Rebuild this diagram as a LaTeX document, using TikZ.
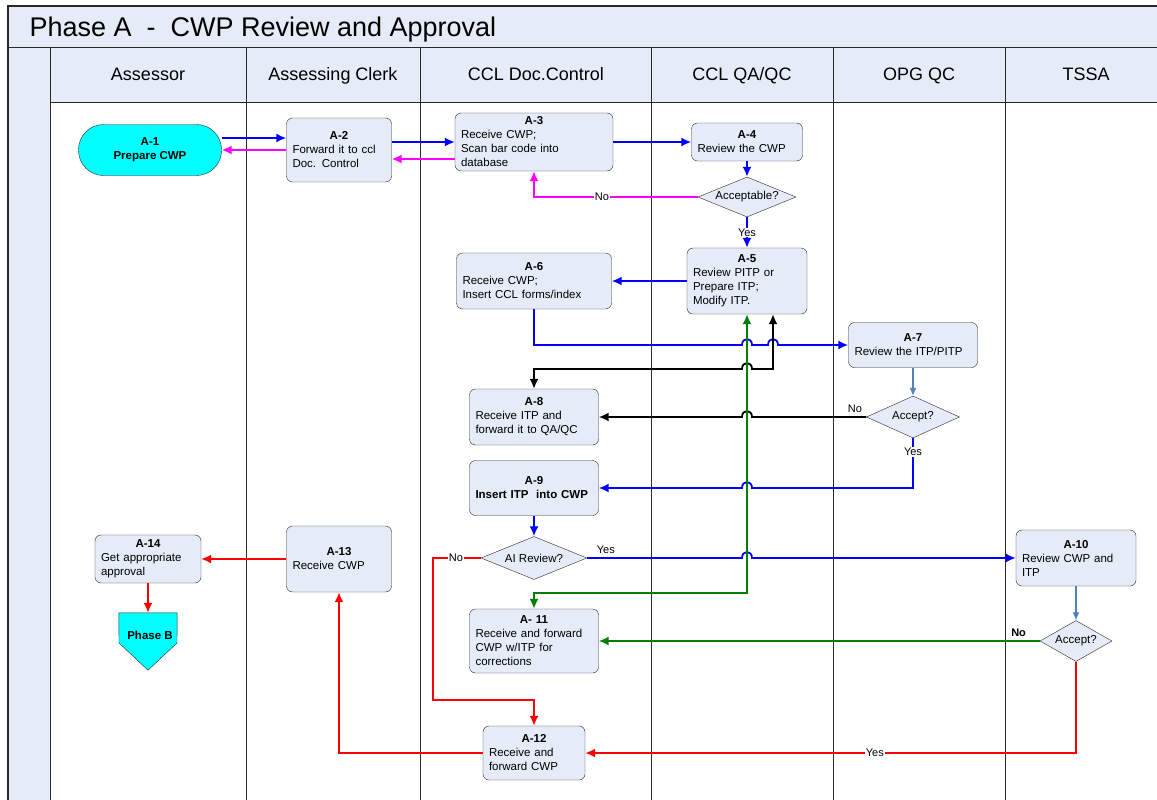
\documentclass[tikz,border=0pt]{standalone}
\usepackage{fontspec}
\setmainfont{Liberation Sans}
\usetikzlibrary{shapes.geometric,arrows.meta}
\definecolor{lanefill}{RGB}{230,236,247}
\definecolor{rulegray}{RGB}{40,40,40}
\definecolor{okgreen}{RGB}{0,128,0}
\definecolor{steel}{RGB}{79,129,189}
\definecolor{aqua}{RGB}{0,255,255}
\definecolor{pinkline}{RGB}{255,0,255}
\definecolor{redline}{RGB}{255,0,0}
\definecolor{blueline}{RGB}{0,0,255}
\newcommand{\taskid}[1]{{\centering\bfseries #1\par}}

\begin{document}
\begin{tikzpicture}[x=1pt,y=-1pt,>={Latex[length=10pt,width=9pt]},
	task/.style={draw=rulegray,fill=lanefill,rounded corners=6pt,inner xsep=6pt,inner ysep=3pt,align=left,font=\fontsize{11.5}{14}\selectfont},
	terminal/.style={draw=rulegray,fill=aqua,rounded corners=25pt,minimum width=143pt,minimum height=51pt,align=center,font=\fontsize{11.5}{14}\selectfont\bfseries},
	decision/.style={diamond,draw=rulegray,fill=lanefill,inner sep=0pt,font=\fontsize{11.5}{14}\selectfont},
	lbl/.style={fill=white,inner sep=1pt,font=\fontsize{11}{13}\selectfont},
	conn/.style={line width=1.8pt,->},
	bl/.style={conn,draw=blueline},
	mg/.style={conn,draw=pinkline},
	gn/.style={conn,draw=okgreen},
	rd/.style={conn,draw=redline},
	bk/.style={conn,draw=black},
	sb/.style={draw=steel,line width=1.2pt,-{Latex[length=8pt,width=7pt]}}]
	\useasboundingbox (0,0) rectangle (1157,800);
	% pool frame, title band and lane headers
	\fill[lanefill] (8,6) rectangle (1157,102);
	\fill[lanefill] (8,102) rectangle (50,800);
	\draw[rulegray,line width=1.2pt] (1157,6) -- (8,6) -- (8,800);
	\draw[rulegray,line width=1pt] (8,48) -- (1157,48);
	\draw[rulegray,line width=1pt] (50,102) -- (1157,102);
	\foreach \x in {50,246,420,651,833,1005}
		\draw[rulegray,line width=1pt] (\x,48) -- (\x,800);
	\node[anchor=base west,font=\fontsize{27}{31}\selectfont] (title) at (26,37) {Phase A\ \ -\ \ CWP Review and Approval};
	\foreach \x/\lane/\name in {148/assessor/Assessor,333/clerk/Assessing Clerk,536/doc/CCL Doc.Control,742/qa/{CCL QA/QC},919/opg/OPG QC,1086/tssa/TSSA}
		\node[anchor=base,font=\fontsize{18}{21}\selectfont] (h\lane) at (\x,81) {\name};

	% steps
	\node[terminal] (a1) at (150,150) {A-1\\Prepare CWP};
	\node[task,text width=93pt,minimum height=64pt] (a2) at (339,150) {\taskid{A-2}Forward it to ccl\\Doc. Control};
	\node[task,text width=146pt,minimum height=58pt] (a3) at (534,142) {\taskid{A-3}Receive CWP;\\Scan bar code into\\database};
	\node[task,text width=99pt,minimum height=38pt] (a4) at (747,142) {\taskid{A-4}Review the CWP};
	\node[decision,minimum width=98pt,minimum height=40pt] (dacc) at (747,197) {\makebox[0pt]{Acceptable?}};
	\node[task,text width=108pt,minimum height=66pt] (a5) at (747,281) {\taskid{A-5}Review PITP or\\Prepare ITP;\\Modify ITP.};
	\node[task,text width=143pt,minimum height=56pt] (a6) at (534,281) {\taskid{A-6}Receive CWP;\\Insert CCL forms/index};
	\node[task,text width=117pt,minimum height=45pt] (a7) at (913,345) {\taskid{A-7}Review the ITP/PITP};
	\node[decision,minimum width=93pt,minimum height=42pt] (dopg) at (913,417) {\makebox[0pt]{Accept?}};
	\node[task,text width=117pt,minimum height=56pt] (a8) at (534,417) {\taskid{A-8}Receive ITP and\\forward it to QA/QC};
	\node[task,text width=117pt,minimum height=55pt] (a9) at (534,488) {\taskid{A-9}\centering\bfseries Insert ITP\ \ into CWP};
	\node[decision,minimum width=106pt,minimum height=43pt] (dai) at (534,558) {\makebox[0pt]{AI Review?}};
	\node[task,text width=108pt,minimum height=56pt] (a10) at (1076,558) {\taskid{A-10}Review CWP and\\ITP};
	\node[decision,minimum width=72pt,minimum height=41pt] (dtssa) at (1076,641) {\makebox[0pt]{Accept?}};
	\node[task,text width=117pt,minimum height=64pt] (a11) at (534,641) {\taskid{A- 11}Receive and forward\\CWP w/ITP for\\corrections};
	\node[task,text width=90pt,minimum height=54pt] (a12) at (534,753) {\taskid{A-12}Receive and\\forward CWP};
	\node[task,text width=93pt,minimum height=66pt] (a13) at (339,559) {\taskid{A-13}Receive CWP};
	\node[task,text width=94pt,minimum height=48pt] (a14) at (148,559) {\taskid{A-14}Get appropriate\\approval};
	% off-page connector to phase B
	\node[minimum width=58pt,minimum height=57pt,inner sep=0pt] (pb) at (148,641.5) {};
	\filldraw[fill=aqua,draw=rulegray] (pb.north west) -- (pb.north east) -- (177,643) -- (pb.south) -- (119,643) -- cycle;
	\node[font=\fontsize{11.5}{14}\selectfont\bfseries] (pbtext) at (150,635) {Phase B};

	% connectors
	\draw[bl] ([yshift=12pt]a1.east) -- ([yshift=12pt]a2.west);
	\draw[mg] (a2.west) -- (a1.east);
	\draw[bl] (a2.east |- a3.west) -- (a3.west);
	\draw[mg] ([yshift=-17pt]a3.west) -- ([yshift=-9pt]a2.east);
	\draw[bl] (a3.east) -- (a4.west);
	\draw[bl] (a4.south) -- (dacc.north);
	\draw[mg] (dacc.west) -- (534,197) node[lbl,pos=0.585] {No} -- (a3.south);
	\draw[bl] (dacc.south) -- (a5.north) node[lbl,pos=0.5] {Yes};
	\draw[bl] (a5.west) -- (a6.east);
	\draw[bl] (a6.south) -- (534,345) -- (742,345) .. controls (742,337) and (752,337) .. (752,345)
		-- (768,345) .. controls (768,337) and (778,337) .. (778,345) -- (a7.west);
	\draw[bk,<->] ([xshift=26pt]a5.south) -- (773,369) -- (752,369) .. controls (752,361) and (742,361) .. (742,369)
		-- (534,369) -- (a8.north);
	\draw[sb] (a7.south) -- (dopg.north);
	\draw[bk] (dopg.west) -- (752,417) node[pos=0.1,above,font=\fontsize{11}{13}\selectfont] {No}
		.. controls (752,409) and (742,409) .. (742,417) -- (a8.east);
	\draw[bl] (dopg.south) -- (913,488) node[lbl,pos=0.28] {Yes} -- (752,488)
		.. controls (752,480) and (742,480) .. (742,488) -- (a9.east);
	\draw[bl] (a9.south) -- (dai.north);
	\draw[bl] (dai.east) -- (742,558) node[pos=0.12,above,font=\fontsize{11}{13}\selectfont] {Yes}
		.. controls (742,550) and (752,550) .. (752,558) -- (a10.west);
	\draw[rd] (dai.west) -- (433,558) node[lbl,pos=0.52] {No} -- (433,700) -- (534,700) -- (a12.north);
	\draw[gn,<->] (a5.south) -- (747,593) -- (534,593) -- (a11.north);
	\draw[sb] (a10.south) -- (dtssa.north);
	\draw[gn] (dtssa.west) -- (a11.east) node[pos=0.048,above,font=\fontsize{11}{13}\selectfont\bfseries] {No};
	\draw[rd] (dtssa.south) -- (1076,753) -- (a12.east) node[lbl,pos=0.41] {Yes};
	\draw[rd] (a12.west) -| (a13.south);
	\draw[rd] (a13.west) -- (a14.east);
	\draw[rd] (a14.south) -- (pb.north);
\end{tikzpicture}
\end{document}
